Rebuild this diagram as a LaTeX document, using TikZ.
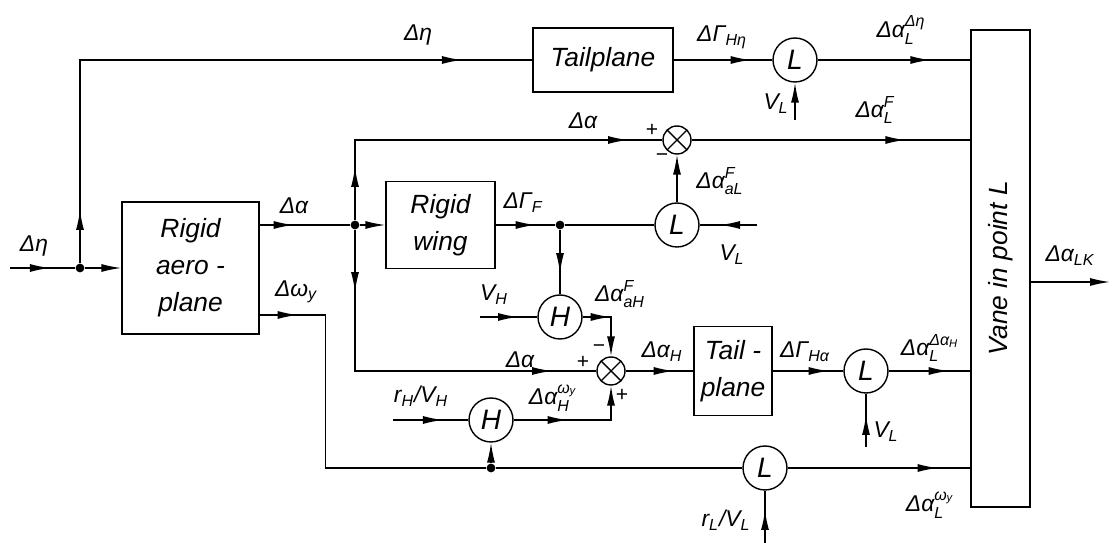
\documentclass[tikz,border=0pt]{standalone}
\usepackage{amsmath}
\usepackage{graphicx}
\usepackage{fontspec}
\setmainfont{Liberation Sans}
\usetikzlibrary{arrows.meta,decorations.markings}

\newcommand{\lsub}[2]{\ensuremath{\text{#1}_{\text{#2}}}}
\newcommand{\lsubsup}[3]{\ensuremath{\text{#1}_{\text{#2}}^{\text{#3}}}}

\begin{document}
\begin{tikzpicture}[
  x=0.02cm, y=-0.02cm, line width=0.8pt,
  >={Latex[length=4mm,width=1.6mm]},
  blk/.style={draw,align=center,inner sep=0pt,
              font=\fontsize{15}{21}\selectfont\itshape},
  op/.style={circle,draw,minimum size=0.88cm,inner sep=0pt,
             font=\fontsize{16}{16}\selectfont\itshape},
  sum/.style={circle,draw,minimum size=0.56cm,inner sep=0pt,
              path picture={\draw (path picture bounding box.north east) -- (path picture bounding box.south west)
                                  (path picture bounding box.north west) -- (path picture bounding box.south east);}},
  dot/.style={circle,fill,inner sep=0pt,minimum size=5pt},
  lbl/.style={font=\fontsize{13}{15}\selectfont\itshape,inner sep=0pt},
  sgn/.style={font=\fontsize{12}{12}\selectfont,inner sep=0pt},
  arr/.style={postaction={decorate,decoration={markings,
              mark=at position #1 with {\arrow{Latex[length=4mm,width=1.6mm]}}}}},
]
  \useasboundingbox (0,0) rectangle (1113,543);

  % Blocks
  \node[blk,minimum width=2.74cm,minimum height=2.64cm] (plane) at (190.5,268) {Rigid\\aero -\\plane};
  \node[blk,minimum width=2.18cm,minimum height=1.74cm] (wing)  at (440.5,225) {Rigid\\wing};
  \node[blk,minimum width=2.8cm,minimum height=1.28cm]  (tailA) at (603,60)    {Tailplane};
  \node[blk,minimum width=1.56cm,minimum height=1.78cm] (tailB) at (733,371)   {Tail -\\plane};
  \node[blk,minimum width=1.18cm,minimum height=9.54cm] (vane)  at (1000.5,268.5)
       {\rotatebox{90}{Vane in point L}};

  % Operators and junctions
  \node[op] (Lt) at (795,60)  {L};
  \node[op] (Lm) at (677,225) {L};
  \node[op] (Hu) at (560,317) {H};
  \node[op] (Hl) at (491,420) {H};
  \node[op] (Lb) at (866,371) {L};
  \node[op] (Lw) at (765,468) {L};
  \node[sum] (s1) at (677,140) {};
  \node[sum] (s2) at (611,371) {};

  \node[dot] (d0) at (80,268)  {};
  \node[dot] (d1) at (355,225) {};
  \node[dot] (d2) at (560,225) {};
  \node[dot] (d3) at (491,468) {};

  % Free ends
  \coordinate (in)  at (10,268);
  \coordinate (vL1) at (795,120);
  \coordinate (vL2) at (757,225);
  \coordinate (vH)  at (480,317);
  \coordinate (rH)  at (393,420);
  \coordinate (vL3) at (866,447);
  \coordinate (rL)  at (765,543);
  \coordinate (out) at (1110,282);
  \coordinate (pw)  at (plane.east |- 0,315);

  % Signal paths
  \draw[arr=0.8cm] (in) -- (d0);
  \draw[->] (d0) -- (plane);
  \draw[arr=1.06cm,arr=11.7cm] (d0) |- (tailA);
  \draw[arr=1.54cm] (tailA) -- (Lt);
  \draw[arr=-0.8cm] (Lt) -- (Lt -| vane.west);
  \draw[->] (vL1) -- (Lt);

  \draw[arr=0.68cm] (plane.east |- d1) -- (d1);
  \draw[->] (d1) -- (wing);
  \draw[arr=1.06cm,arr=7.06cm] (d1) |- (s1);
  \draw[arr=-1.3cm] (s1) -- (s1 -| vane.west);
  \draw[arr=1.24cm,arr=6.76cm] (d1) |- (s2);

  \draw[arr=0.8cm] (wing) -- (d2);
  \draw (d2) -- (Lm);
  \draw[arr=0.86cm] (d2) -- (Hu);
  \draw[arr=0.74cm] (vL2) -- (Lm);
  \draw[->] (Lm) -- (s1);

  \draw[arr=0.76cm] (vH) -- (Hu);
  \draw[->,arr=0.56cm] (Hu) -| (s2);
  \draw[arr=0.96cm] (s2) -- (tailB);
  \draw[arr=1.12cm] (tailB) -- (Lb);
  \draw[arr=1.2cm] (Lb) -- (Lb -| vane.west);
  \draw[arr=0.64cm] (vL3) -- (Lb);

  \draw[arr=1.0cm] (rH) -- (Hl);
  \draw[->,arr=1.08cm] (Hl) -| (s2);
  \draw[arr=0.76cm] (pw) -- ++(66,0) |- (d3);
  \draw[->] (d3) -- (Hl);
  \draw (d3) -- (Lw);
  \draw[arr=3.0cm] (Lw) -- (Lw -| vane.west);
  \draw[arr=0.66cm] (rL) -- (Lw);

  \draw[->] (vane.east |- out) -- (out);

  % Labels
  \node[lbl] (tEtaIn)  at (34,246)  {Δη};
  \node[lbl] (tEtaTop) at (418,35)  {Δη};
  \node[lbl] (tGHeta)  at (722,37)  {\lsub{ΔΓ}{Hη}};
  \node[lbl] (tALeta)  at (901,30)  {\lsubsup{Δα}{L}{Δη}};
  \node[lbl] (tVL1)    at (776,104) {\lsub{V}{L}};
  \node[lbl] (tAup)    at (583,121) {Δα};
  \node[lbl] (tALF)    at (875,110) {\lsubsup{Δα}{L}{F}};
  \node[lbl] (tAaLF)   at (720,181) {\lsubsup{Δα}{aL}{F}};
  \node[lbl] (tAplane) at (294,206) {Δα};
  \node[lbl] (tWy)     at (296,292) {\lsub{Δω}{y}};
  \node[lbl] (tGF)     at (523,203) {\lsub{ΔΓ}{F}};
  \node[lbl] (tVL2)    at (732,255) {\lsub{V}{L}};
  \node[lbl] (tVH)     at (494,295) {\lsub{V}{H}};
  \node[lbl] (tAaHF)   at (620,294) {\lsubsup{Δα}{aH}{F}};
  \node[lbl] (tAlow)   at (520,360) {Δα};
  \node[lbl] (tAH)     at (662,352) {\lsub{Δα}{H}};
  \node[lbl] (trHVH)   at (421,396) {\lsub{r}{H}/\lsub{V}{H}};
  \node[lbl] (tAHwy)   at (553,398) {\lsubsup{Δα}{H}{\lsub{ω}{y}}};
  \node[lbl] (tGHa)    at (805,352) {\lsub{ΔΓ}{Hα}};
  \node[lbl] (tALaH)   at (930,348) {\lsubsup{Δα}{L}{\lsub{Δα}{H}}};
  \node[lbl] (tVL3)    at (886,432) {\lsub{V}{L}};
  \node[lbl] (tALwy)   at (930,505) {\lsubsup{Δα}{L}{\lsub{ω}{y}}};
  \node[lbl] (trLVL)   at (726,520) {\lsub{r}{L}/\lsub{V}{L}};
  \node[lbl] (tALK)    at (1070,256) {\lsub{Δα}{LK}};

  % Signs at the summing points
  \node[sgn] (p1) at (652,130) {+};
  \node[sgn] (m1) at (662,158) {−};
  \node[sgn] (m2) at (599,349) {−};
  \node[sgn] (p2) at (583,362) {+};
  \node[sgn] (p3) at (622,395) {+};
\end{tikzpicture}
\end{document}
